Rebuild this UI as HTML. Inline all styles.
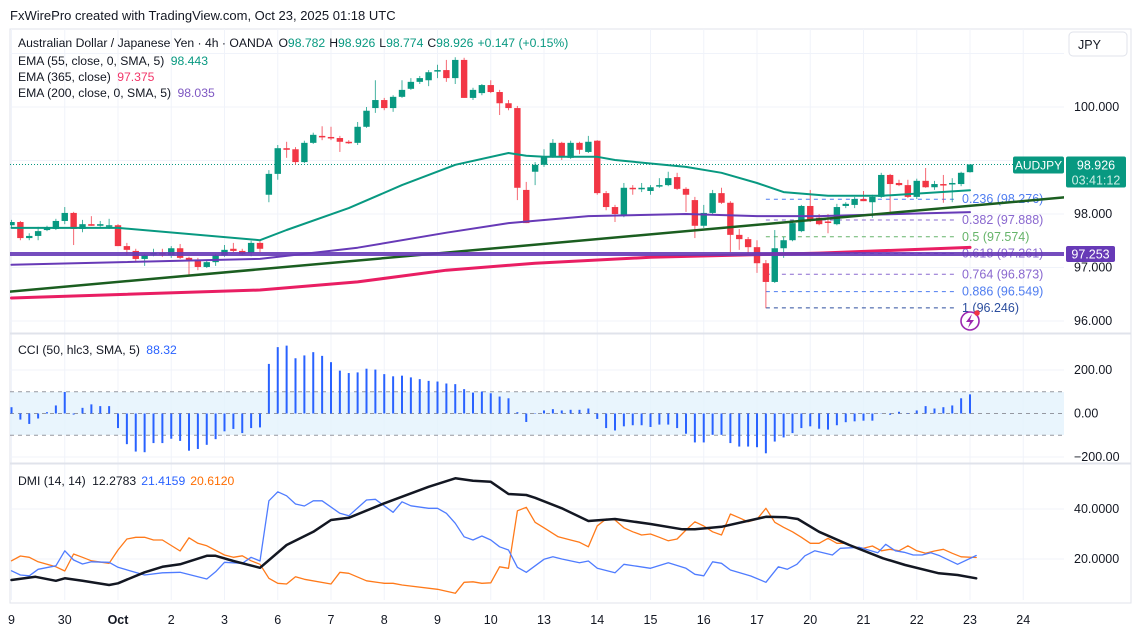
<!DOCTYPE html>
<html><head><meta charset="utf-8"><style>
html,body{margin:0;padding:0;background:#fff;}
svg{display:block;font-family:"Liberation Sans",sans-serif;}
</style></head><body>
<svg id="chart" width="1137" height="638" viewBox="0 0 1137 638" xmlns="http://www.w3.org/2000/svg">
<rect x="0" y="0" width="1137" height="638" fill="#fff"/>
<text x="10" y="20" font-size="13" fill="#131722">FxWirePro created with TradingView.com, Oct 23, 2025 01:18 UTC</text>
<rect x="10" y="29" width="1121" height="574" fill="none" stroke="#e0e3eb" stroke-width="1"/>
<g id="grid"></g>
<rect x="10" y="392" width="1054" height="43" fill="#e3f2fd" opacity="0.8"/>
<g id="cciguides"></g>
<g id="mainpane" clip-path="url(#clipMain)"></g>
<g id="ccipane"></g>
<g id="dmipane" clip-path="url(#clipDmi)"></g>
<line x1="10" y1="333.5" x2="1131" y2="333.5" stroke="#e0e3eb" stroke-width="2"/>
<line x1="10" y1="463.5" x2="1131" y2="463.5" stroke="#e0e3eb" stroke-width="2"/>
<defs>
<clipPath id="clipMain"><rect x="10" y="29" width="1054" height="304"/></clipPath>
<clipPath id="clipDmi"><rect x="10" y="464" width="1054" height="138"/></clipPath>
</defs>
<g id="axes"></g>
<g id="legend" font-size="12.2" fill="#131722">
<text x="18" y="47">Australian Dollar / Japanese Yen · 4h · OANDA <tspan dx="3">O</tspan><tspan fill="#089981">98.782</tspan><tspan dx="4">H</tspan><tspan fill="#089981">98.926</tspan><tspan dx="4">L</tspan><tspan fill="#089981">98.774</tspan><tspan dx="4">C</tspan><tspan fill="#089981">98.926</tspan><tspan dx="4" fill="#089981">+0.147 (+0.15%)</tspan></text>
<text x="18" y="65">EMA (55, close, 0, SMA, 5) <tspan fill="#089981" dx="3">98.443</tspan></text>
<text x="18" y="81">EMA (365, close) <tspan fill="#f23669" dx="3">97.375</tspan></text>
<text x="18" y="97">EMA (200, close, 0, SMA, 5) <tspan fill="#7e57c2" dx="3">98.035</tspan></text>
<text x="18" y="354">CCI (50, hlc3, SMA, 5) <tspan fill="#2962ff" dx="3">88.32</tspan></text>
<text x="18" y="485">DMI (14, 14) <tspan dx="3">12.2783</tspan><tspan fill="#2962ff" dx="5">21.4159</tspan><tspan fill="#ff6d00" dx="5">20.6120</tspan></text>
</g>
<g>
<rect x="1069" y="32" width="58" height="24" rx="4" fill="#fff" stroke="#e0e3eb"/>
<text x="1078" y="49" font-size="12.5" fill="#131722">JPY</text>
</g>
<g>
<circle cx="970" cy="321" r="9" fill="#fff" stroke="#9c27b0" stroke-width="1.6"/>
<path d="M972 314 L966 322 L970 322 L968 328 L974 320 L970 320 Z" fill="#9c27b0"/>
<circle cx="977" cy="313" r="2.8" fill="#f23645"/>
</g>
</svg>
<script>
const NS='http://www.w3.org/2000/svg';
// ---- data ----
const dayLabels=["9","30","Oct","2","3","6","7","8","9","10","13","14","15","16","17","20","21","22","23","24"];
const opens=[97.79,97.85,97.55,97.59,97.70,97.72,97.87,98.02,97.72,97.81,97.78,97.76,97.79,97.40,97.31,97.16,97.25,97.27,97.23,97.36,97.18,97.14,97.01,97.10,97.23,97.35,97.31,97.27,97.46,98.36,98.75,99.23,99.21,98.97,99.33,99.46,99.44,99.42,99.35,99.33,99.63,99.98,100.13,99.98,100.19,100.34,100.47,100.50,100.67,100.69,100.54,100.88,100.17,100.26,100.41,100.28,100.07,99.98,98.45,98.79,98.92,99.07,99.33,99.05,99.33,99.16,99.37,98.39,98.13,97.98,98.49,98.49,98.43,98.52,98.54,98.69,98.47,98.26,97.78,98.02,98.39,98.21,97.61,97.53,97.38,97.08,96.73,97.36,97.51,97.68,98.15,97.93,97.86,97.81,98.15,98.17,98.28,98.22,98.32,98.73,98.58,98.54,98.32,98.62,98.50,98.56,98.56,98.56,98.782];
const highs=[97.89,97.87,97.64,97.76,97.78,97.91,98.13,98.04,97.89,97.96,97.87,97.91,97.81,97.46,97.35,97.25,97.35,97.35,97.40,97.44,97.20,97.18,97.14,97.25,97.42,97.46,97.35,97.50,97.50,98.82,99.29,99.35,99.25,99.37,99.52,99.64,99.63,99.46,99.38,99.72,100.00,100.50,100.17,100.22,100.50,100.54,100.58,100.69,100.79,100.88,100.93,100.92,100.36,100.43,100.50,100.32,100.13,100.02,98.60,98.97,99.21,99.40,99.35,99.37,99.35,99.46,99.38,98.43,98.17,98.58,98.54,98.58,98.54,98.67,98.79,98.77,98.50,98.32,98.17,98.45,98.49,98.24,97.72,97.57,97.51,97.14,97.70,97.57,97.85,98.17,98.45,98.00,98.00,98.19,98.22,98.32,98.43,98.36,98.77,98.75,98.64,98.64,98.66,98.86,98.62,98.73,98.67,98.79,98.926];
const lows=[97.74,97.51,97.51,97.51,97.68,97.70,97.81,97.42,97.66,97.78,97.76,97.72,97.40,97.23,97.10,97.03,97.21,97.20,97.18,97.16,96.84,96.95,96.99,97.03,97.20,97.29,97.23,97.21,97.29,98.22,98.64,99.05,98.92,98.95,99.31,99.38,99.38,99.16,99.31,99.29,99.61,99.89,99.94,99.91,100.17,100.32,100.43,100.39,100.54,100.47,100.43,100.17,100.13,100.22,100.26,99.85,99.94,98.26,97.83,98.54,98.88,99.05,99.01,99.03,99.12,99.14,98.36,98.07,97.85,97.94,98.36,98.41,98.36,98.49,98.52,98.45,98.04,97.55,97.74,98.00,98.19,97.29,97.33,97.23,96.90,96.24,96.71,97.18,97.49,97.66,97.85,97.79,97.64,97.79,98.11,98.11,98.24,97.93,98.30,98.04,98.52,98.30,98.28,98.49,98.45,98.21,98.22,98.52,98.774];
const closes=[97.85,97.55,97.59,97.68,97.74,97.87,98.02,97.72,97.81,97.78,97.81,97.79,97.40,97.33,97.16,97.23,97.27,97.25,97.36,97.18,97.14,97.01,97.10,97.23,97.33,97.31,97.25,97.46,97.35,98.75,99.23,99.20,98.97,99.33,99.48,99.44,99.42,99.35,99.33,99.63,99.93,100.13,99.98,100.19,100.32,100.47,100.54,100.65,100.69,100.54,100.88,100.17,100.32,100.41,100.28,100.07,99.98,98.49,97.83,98.92,99.07,99.33,99.07,99.33,99.20,99.35,98.39,98.13,98.00,98.49,98.47,98.49,98.50,98.54,98.67,98.47,98.36,97.78,98.02,98.39,98.21,97.61,97.53,97.38,97.08,96.73,97.36,97.51,97.83,98.15,97.89,97.81,97.84,98.13,98.19,98.28,98.24,98.32,98.73,98.56,98.54,98.32,98.62,98.50,98.56,98.54,98.58,98.77,98.926];
const ema55Idx=[0,12,28,31,38,44,50,56,58,60,66,68,76,80,84,87,92,98,108];
const ema55Val=[97.74,97.74,97.51,97.70,98.11,98.54,98.92,99.14,99.09,99.07,99.07,99.01,98.88,98.77,98.58,98.41,98.34,98.34,98.443];
const ema200Idx=[0,28,39,49,56,65,76,84,91,108];
const ema200Val=[97.05,97.16,97.37,97.65,97.83,97.96,98.00,97.96,97.96,98.035];
const ema365Idx=[0,28,39,49,59,72,91,108];
const ema365Val=[96.43,96.58,96.73,96.95,97.08,97.19,97.27,97.375];
const hLinePrice=97.253;
const trendIdx=[-0.2,118.6];
const trendVal=[96.55,98.31];
const fibRatios=["0.236","0.382","0.5","0.618","0.764","0.886","1"];
const fibPrices=[98.276,97.888,97.574,97.261,96.873,96.549,96.246];
const fibColors=["#4f7df0","#8a68cf","#66b46a","#8a68cf","#8a68cf","#4f7df0","#2c4e9e"];
const priceTicks=[100,98,97,96];
const cciVals=[29,-28,-48,-23,6,37,99,-5,26,42,34,34,-67,-141,-175,-178,-136,-136,-116,-126,-171,-163,-144,-118,-82,-71,-90,-67,-64,228,305,312,254,267,282,265,236,197,186,189,206,202,181,171,174,166,158,150,147,138,135,112,96,101,93,78,70,6,-39,2,14,20,14,17,17,23,-25,-67,-78,-59,-54,-54,-62,-51,-51,-67,-93,-133,-133,-98,-98,-136,-152,-152,-155,-183,-129,-110,-90,-67,-59,-70,-74,-54,-40,-36,-33,-33,-1,-6,8,-2,14,34,23,29,37,70,88];
const cciTicks=[200,0,-200];
const adxIdx=[0,2.7,5,6,8,11,12,15,17,19,22,23,25,28,31,34,36,38,42,47,50,52,54,56,58,59,62,65,68,72,75.6,77,80,85,87.3,88.6,91,94.4,98.2,100.7,104.5,106.6,108.7];
const adxVal=[11.6,12.9,11.3,12.3,11.3,9.6,10.3,14.7,16.9,17.9,21.3,21.3,19.2,16.5,25.6,30.9,35.6,36.5,42.3,48.9,52.3,51.3,50.9,46,45.6,44.5,40.3,35.2,36,34,31.9,31.9,32.9,36.9,36.7,36,30.9,25.6,20.3,17.6,14.3,13.6,12.3];
const pdiIdx=[0,1,2,3,5,6,7,8,9,11,12,15,17,19,22,23,24,26,27,28,29,30,31,32,33,34,35,37,38,40,41,43,44,45,47,48,49,50,51,52,53,54,55,56,57,58,60,61,62,64,65,66,68,69,72,74,76,77,78,79,80,81,83.3,85,86.4,87.4,88.5,89.4,90.5,92.5,93.4,95.5,97.6,98.5,99.6,100.6,101.6,102.6,103.6,104.6,106.6,108.7];
const pdiVal=[15.3,13.6,13.3,15.9,17.3,23.3,19.6,18,18.9,18.7,16.7,13.6,14.5,14.7,12,14.9,18.7,18.3,20.7,19.2,43.3,46.9,45.3,42,41.2,43.3,43.3,38.3,37.3,43.6,43.9,38.7,42.9,41.3,40.3,40.3,38.3,34.3,28.9,27.6,29.2,27.6,24.9,23.6,16.7,14.7,19.9,20.9,20,18.5,19.2,16.3,14.5,17.9,16.3,18.5,16.3,13.9,13.3,18.9,18.3,15.6,13.2,10.7,16.9,15.9,17.9,21.3,23.3,21.6,24.3,24.7,22.5,25.9,23.3,22.7,21.6,21.6,22.5,21.3,17.9,21.4];
const mdiIdx=[0,1,2,3,4,5,6,7,8,9,11,12,13,14,15,16,17,19,20,21,22,24,25,26,27,28,29,30,31,32,33,36,37,38,40,42,43,44,48,50,51,52,53,54,55,56,57,58,59,60,61.6,63,64,65,66,67,68,69,70,71,72,73,74,75,76,77,78,79,80,81,82,83,84,85,86,87,88,89,90,91,92,93,94,95,96,97,98,99,100,101,102,103,104,105,106,107,108.7];
const mdiVal=[19.3,21.2,20.7,18.9,17.9,16.9,15.2,22,20.7,19.3,18.3,23.6,28,28.7,28.7,27.6,27.6,23.2,28.5,26.3,25.3,21.6,20.7,21.3,19.3,17.9,12.3,10.3,10,12.9,11.9,10,14.7,14.3,11.3,10.3,10.3,9.6,7.9,6.3,10.7,10.9,10.3,10.5,16.9,16.3,39.3,40.7,34.7,32.5,28.9,27.6,26.7,24.9,33.3,36,35.6,32.5,30.9,29.6,30,28.7,27.3,28,31.6,34.9,33.2,30.9,29.6,38,36.5,34.9,35.9,40.3,34.7,32.7,30.9,28.7,26.3,26.3,28.3,26.3,26.3,24.7,24.3,25.2,23.3,23.9,23.3,25.3,23.3,22.3,23.2,23.9,22.3,20.9,20.6];
const dmiTicks=[40,20];
// ---- scales ----
function xOf(i){return 11.5+i*8.875;}
function pY(p){return 214-(p-98)*53.5;}
function cY(v){return 413.5-v*0.2175;}
function dY(v){return 559-(v-20)*2.5;}
function mk(tag,attrs,parent){const e=document.createElementNS(NS,tag);for(const k in attrs)e.setAttribute(k,attrs[k]);parent.appendChild(e);return e;}
const grid=document.getElementById('grid');
const mainG=document.getElementById('mainpane');
const cciG=document.getElementById('ccipane');
const dmiG=document.getElementById('dmipane');
const axes=document.getElementById('axes');
const guides=document.getElementById('cciguides');
dayLabels.forEach((d,k)=>{
  const x=xOf(k*6);
  const l=mk('line',{x1:x,y1:29,x2:x,y2:600,stroke:'#f0f3fa','stroke-width':1},grid);
  
  
  const t=mk('text',{x:x,y:624,'font-size':12.5,fill:'#131722','text-anchor':'middle','font-weight':d==='Oct'?'bold':'normal'},axes);
  t.textContent=d;
  
  
});
[101,100,99,98,97,96].forEach(p=>{
  const l=mk('line',{x1:10,y1:pY(p),x2:1064,y2:pY(p),stroke:'#f0f3fa','stroke-width':1},grid);
  
  
});
priceTicks.forEach(p=>{
  const t=mk('text',{x:1074,y:pY(p)+4,'font-size':12.5,fill:'#131722'},axes);
  t.textContent=p.toFixed(3);
  
  
});
cciTicks.forEach(v=>{
  if(v!==0){const l=mk('line',{x1:10,y1:cY(v),x2:1064,y2:cY(v),stroke:'#f0f3fa'},grid);
  
  }
  const t=mk('text',{x:1074,y:cY(v)+4,'font-size':12.5,fill:'#131722'},axes);
  t.textContent=(v<0?'\u2212':'')+Math.abs(v).toFixed(2);
  
  
});
[100,0,-100].forEach(v=>{
  const l=mk('line',{x1:10,y1:cY(v),x2:1064,y2:cY(v),stroke:'#9598a1','stroke-dasharray':'4 4','stroke-width':1},guides);
  
  
});
dmiTicks.forEach(v=>{
  const l=mk('line',{x1:10,y1:dY(v),x2:1064,y2:dY(v),stroke:'#f0f3fa'},grid);
  
  
  const t=mk('text',{x:1074,y:dY(v)+4,'font-size':12.5,fill:'#131722'},axes);
  t.textContent=v.toFixed(4);
  
  
});
function poly(idx,val,fy,color,w,parent,name){
  const pts=idx.map((i,k)=>xOf(i).toFixed(1)+','+fy(val[k]).toFixed(1)).join(' ');
  const p=mk('polyline',{points:pts,fill:'none',stroke:color,'stroke-width':w,'stroke-linejoin':'round','stroke-linecap':'round'},parent);
  
  
  return p;
}
const lastClose=closes[closes.length-1];
const lp=mk('line',{x1:10,y1:pY(lastClose),x2:1064,y2:pY(lastClose),stroke:'#089981','stroke-dasharray':'1 2','stroke-width':1},mainG);


fibPrices.forEach((p,k)=>{
  const y=pY(p);
  const l=mk('line',{x1:xOf(85),y1:y,x2:955,y2:y,stroke:fibColors[k],'stroke-dasharray':'4 4','stroke-width':1},mainG);
  
  
  const t=mk('text',{x:962,y:y+4,'font-size':12.5,fill:fibColors[k]},mainG);
  t.textContent=fibRatios[k]+' ('+p.toFixed(3)+')';
  
  
});
for(let i=0;i<opens.length;i++){
  const up=closes[i]>=opens[i];
  const col=up?'#089981':'#f23645';
  const x=xOf(i);
  const w=mk('line',{x1:x,y1:pY(highs[i]),x2:x,y2:pY(lows[i]),stroke:col,'stroke-width':1,opacity:0.75},mainG);
  
  
  const top=pY(Math.max(opens[i],closes[i]));
  const h=Math.max(1.5,Math.abs(pY(opens[i])-pY(closes[i])));
  const b=mk('rect',{x:x-3.2,y:top,width:6.4,height:h,fill:col},mainG);
  
  
}
poly(ema365Idx,ema365Val,pY,'#e91e63',3,mainG,'ema365-line');
poly(ema200Idx,ema200Val,pY,'#673ab7',2,mainG,'ema200-line');
poly(ema55Idx,ema55Val,pY,'#089981',2,mainG,'ema55-line');
poly(trendIdx,trendVal,pY,'#1b5e20',2.5,mainG,'trend-line');
const hl=mk('line',{x1:10,y1:pY(hLinePrice),x2:1064,y2:pY(hLinePrice),stroke:'#673ab7','stroke-width':4,opacity:0.9},mainG);


function tag(x,y,w,h,fill,txt,name,size){
  const g=mk('g',{},axes);
  
  
  mk('rect',{x:x,y:y,width:w,height:h,fill:fill,rx:2},g);
  const t=mk('text',{x:x+w/2,y:y+h/2+4.5,'font-size':size||12.5,fill:'#fff','text-anchor':'middle'},g);
  t.textContent=txt;
  return g;
}
tag(1013,pY(lastClose)-8,51,17,'#089981','AUDJPY','symbol-tag',12);
const pg=mk('g',{},axes);


mk('rect',{x:1066,y:pY(lastClose)-8,width:60,height:31,fill:'#089981',rx:2},pg);
const t1=mk('text',{x:1096,y:pY(lastClose)+5,'font-size':12.5,fill:'#fff','text-anchor':'middle'},pg);t1.textContent=lastClose.toFixed(3);
const t2=mk('text',{x:1096,y:pY(lastClose)+20,'font-size':12.5,fill:'#cdeee6','text-anchor':'middle'},pg);t2.textContent='03:41:12';
tag(1066,pY(hLinePrice)-8,49,16,'#673ab7',hLinePrice.toFixed(3),'level-price-tag');
cciVals.forEach((v,i)=>{
  const x=xOf(i);
  const b=mk('line',{x1:x,y1:cY(0),x2:x,y2:cY(v),stroke:'#2962ff','stroke-width':2},cciG);
  
  
});
poly(mdiIdx,mdiVal,dY,'#ff7a1a',1.3,dmiG,'minus-di-line');
poly(pdiIdx,pdiVal,dY,'#4f7cff',1.3,dmiG,'plus-di-line');
poly(adxIdx,adxVal,dY,'#131722',2.5,dmiG,'adx-line');
</script>
</body></html>
